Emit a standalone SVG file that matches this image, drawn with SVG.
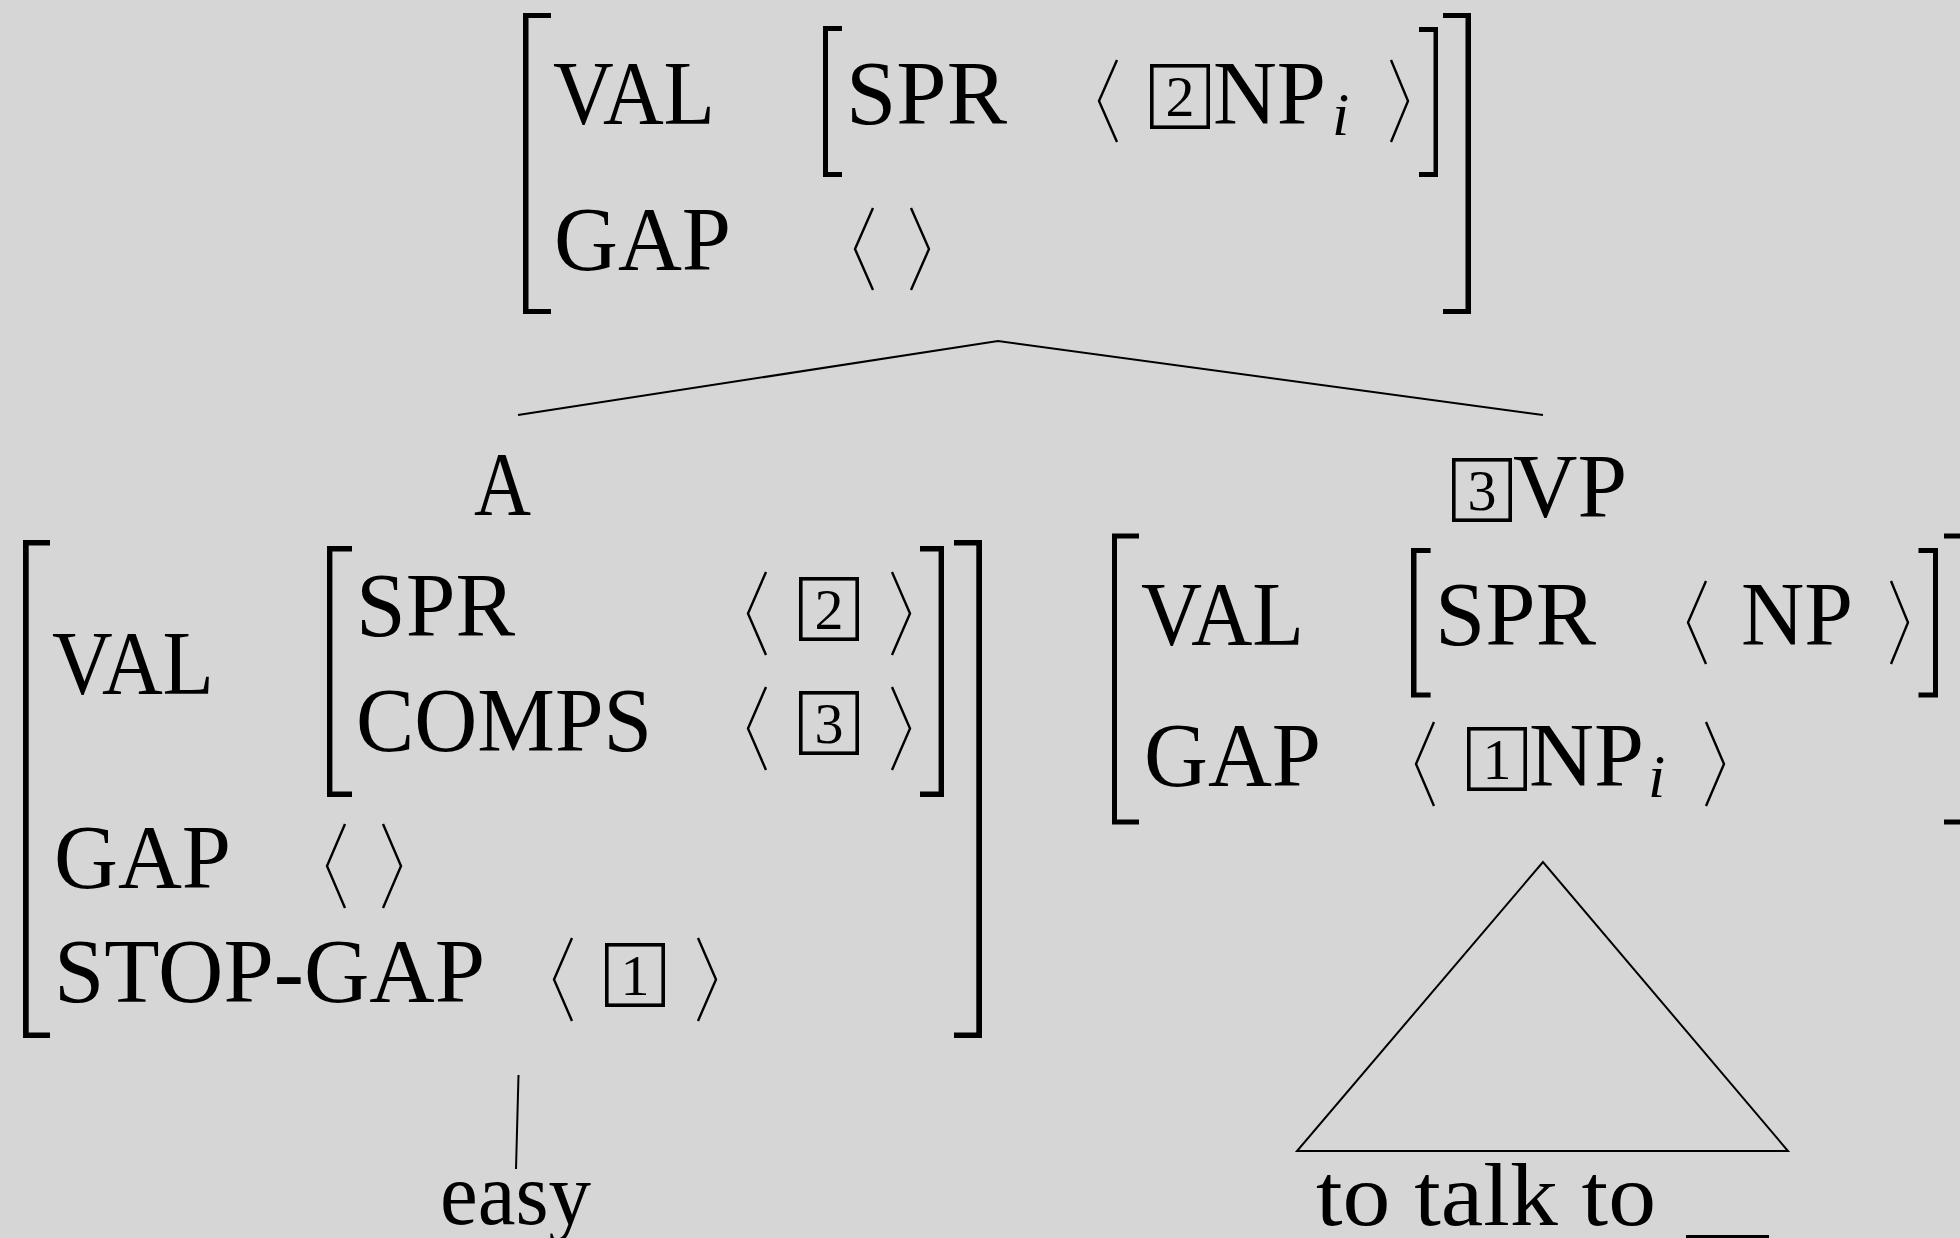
<svg xmlns="http://www.w3.org/2000/svg" width="1960" height="1238" viewBox="0 0 1960 1238">
<style>
.t{font-family:"Liberation Serif","Times New Roman",serif;font-size:90px;fill:#000}
.lc{font-family:"Liberation Serif","Times New Roman",serif;font-size:88px;fill:#000}
.d{font-family:"Liberation Serif","Times New Roman",serif;font-size:58px;fill:#000;text-anchor:middle}
.s{font-family:"Liberation Serif","Times New Roman",serif;font-size:62px;font-style:italic;fill:#000}
.br{fill:#000}
.ang{fill:none;stroke:#000;stroke-width:2.4;stroke-linejoin:miter}
.box{fill:none;stroke:#000;stroke-width:3.6}
.ln{fill:none;stroke:#000;stroke-width:2}
</style>
<rect x="0" y="0" width="1960" height="1238" fill="#d6d6d6"/>

<g id="connectors">
<polyline class="ln" points="518,415 998,341 1543,415"/>
<line class="ln" x1="518.5" y1="1075" x2="516" y2="1169"/>
<polygon class="ln" points="1543,862 1297,1151 1788,1151"/>
</g>

<g id="node-top">
<path class="br" d="M523 13H551V18H528.5V309H551V314H523Z"/>
<path class="br" d="M823 26H842V31H828V172H842V177H823Z"/>
<path class="br" d="M1438 27H1419V32H1433.5V172H1419V177H1438Z"/>
<path class="br" d="M1471 13H1443V18H1465.5V309H1443V314H1471Z"/>
<text class="t" x="553" y="124" textLength="162" lengthAdjust="spacingAndGlyphs">VAL</text>
<text class="t" x="846" y="124" textLength="161" lengthAdjust="spacingAndGlyphs">SPR</text>
<polyline class="ang" points="1117,60 1099,101 1117,142"/>
<rect class="box" x="1151.8" y="65.8" width="56.4" height="61.4"/>
<text class="d" x="1180" y="116">2</text>
<text class="t" x="1213" y="124" textLength="113" lengthAdjust="spacingAndGlyphs">NP</text>
<text class="s" x="1332" y="135">i</text>
<polyline class="ang" points="1391,60 1408,101 1391,142"/>
<text class="t" x="554" y="270" textLength="177" lengthAdjust="spacingAndGlyphs">GAP</text>
<polyline class="ang" points="873,208 855,249 873,290"/>
<polyline class="ang" points="911,208 929,249 911,290"/>
</g>

<g id="node-A">
<text class="t" x="474" y="515" textLength="57" lengthAdjust="spacingAndGlyphs">A</text>
<path class="br" d="M23 540H50V545.5H28.7V1032.5H50V1038H23Z"/>
<path class="br" d="M327 546H352V551.5H332.4V791.5H352V797H327Z"/>
<path class="br" d="M944 546H920V551.5H938.6V791.5H920V797H944Z"/>
<path class="br" d="M982 540H954V545.5H976.3V1032.5H954V1038H982Z"/>
<text class="t" x="52" y="694" textLength="162" lengthAdjust="spacingAndGlyphs">VAL</text>
<text class="t" x="356" y="636" textLength="159" lengthAdjust="spacingAndGlyphs">SPR</text>
<polyline class="ang" points="766,572 748,613.5 766,655"/>
<rect class="box" x="800.8" y="578.8" width="56.4" height="60.4"/>
<text class="d" x="829" y="629">2</text>
<polyline class="ang" points="892,572 910,613.5 892,655"/>
<text class="t" x="356" y="750.5" textLength="296" lengthAdjust="spacingAndGlyphs">COMPS</text>
<polyline class="ang" points="766,687 748,728.5 766,770"/>
<rect class="box" x="800.8" y="692.8" width="56.4" height="60.4"/>
<text class="d" x="829" y="743">3</text>
<polyline class="ang" points="892,687 910,728.5 892,770"/>
<text class="t" x="54" y="888" textLength="177" lengthAdjust="spacingAndGlyphs">GAP</text>
<polyline class="ang" points="345,824 327,866 345,908"/>
<polyline class="ang" points="383,824 401,866 383,908"/>
<text class="t" x="54" y="1002" textLength="431" lengthAdjust="spacingAndGlyphs">STOP-GAP</text>
<polyline class="ang" points="572,938 554,979.5 572,1021"/>
<rect class="box" x="606.8" y="944.8" width="56.4" height="60.4"/>
<text class="d" x="635" y="995">1</text>
<polyline class="ang" points="698,938 716,979.5 698,1021"/>
</g>

<g id="node-VP">
<rect class="box" x="1453.8" y="459.8" width="56.4" height="60.4"/>
<text class="d" x="1482" y="510">3</text>
<text class="t" x="1513" y="517" textLength="114" lengthAdjust="spacingAndGlyphs">VP</text>
<path class="br" d="M1112 533.5H1139V538.5H1117V819.5H1139V824.5H1112Z"/>
<path class="br" d="M1411 548H1430.6V553H1416.5V692.5H1430.6V697.5H1411Z"/>
<path class="br" d="M1938 548H1918.5V553H1933V692.5H1918.5V697.5H1938Z"/>
<path class="br" d="M1972 533.5H1944V538.5H1966V819.5H1944V824.5H1972Z"/>
<text class="t" x="1141" y="645" textLength="163" lengthAdjust="spacingAndGlyphs">VAL</text>
<text class="t" x="1435" y="645" textLength="161" lengthAdjust="spacingAndGlyphs">SPR</text>
<polyline class="ang" points="1706,581 1688,622.5 1706,664"/>
<text class="t" x="1741" y="645" textLength="112" lengthAdjust="spacingAndGlyphs">NP</text>
<polyline class="ang" points="1891,581 1908,622.5 1891,664"/>
<text class="t" x="1144" y="786" textLength="177" lengthAdjust="spacingAndGlyphs">GAP</text>
<polyline class="ang" points="1434,722 1416,764 1434,806"/>
<rect class="box" x="1468.8" y="728.8" width="56.4" height="60.4"/>
<text class="d" x="1497" y="779">1</text>
<text class="t" x="1529" y="786" textLength="115" lengthAdjust="spacingAndGlyphs">NP</text>
<text class="s" x="1648" y="797">i</text>
<polyline class="ang" points="1706,722 1724,764 1706,806"/>
</g>

<g id="node-easy">
<text class="lc" x="440" y="1224" textLength="151" lengthAdjust="spacingAndGlyphs">easy</text>
</g>

<g id="node-totalk">
<text class="lc" x="1316" y="1225" textLength="340" lengthAdjust="spacingAndGlyphs">to talk to</text>
<rect x="1686" y="1235" width="83" height="4" fill="#000"/>
</g>
</svg>
